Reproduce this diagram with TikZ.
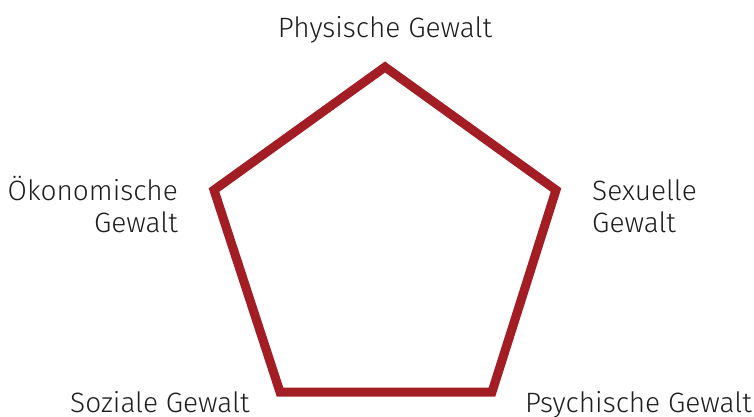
\documentclass[tikz,border=0pt]{standalone}
\usepackage{fontspec}
\setmainfont{Fira Sans}[UprightFont=* Light]
\definecolor{gewaltred}{RGB}{163,30,36}
\definecolor{txtgray}{RGB}{30,30,30}
\begin{document}
\begin{tikzpicture}[x=1pt,y=-1pt,
  lbl/.style={inner sep=0pt,text=txtgray,font=\fontsize{28}{32}\selectfont},
  edge/.style={draw=gewaltred,line width=9pt,line join=miter}]
\useasboundingbox (0,0) rectangle (754,416);
\coordinate (t) at (385,67);
\coordinate (r) at (556,190);
\coordinate (br) at (492,392);
\coordinate (bl) at (280,392);
\coordinate (l) at (214,190);
\draw[edge] (t) -- (r) -- (br) -- (bl) -- (l) -- cycle;
\node[lbl,anchor=base] (p1) at (385,37) {Physische Gewalt};
\node[lbl,anchor=base east,align=right] (p2) at (178,232) {Ökonomische\\Gewalt};
\node[lbl,anchor=base west,align=left] (p3) at (592,232) {Sexuelle\\Gewalt};
\node[lbl,anchor=base west] (p4) at (70,412) {Soziale Gewalt};
\node[lbl,anchor=base east] (p5) at (752,412) {Psychische Gewalt};
\end{tikzpicture}
\end{document}
